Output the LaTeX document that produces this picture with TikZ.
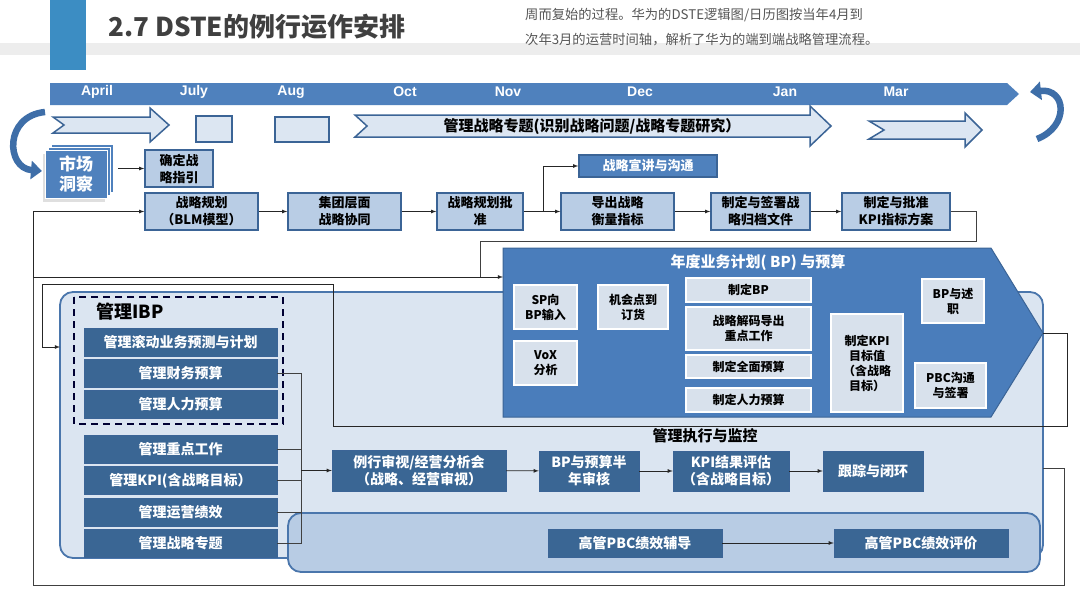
\documentclass[tikz,border=0pt]{standalone}
\usepackage{fontspec}
\setmainfont{Noto Sans CJK SC}
\newfontfamily\monthfont{Liberation Sans}
\usepackage{tikz}
\usetikzlibrary{arrows.meta,shadows}
\definecolor{barblue}{HTML}{3C8DC3}
\definecolor{tlblue}{HTML}{4F81BD}
\definecolor{boxline}{HTML}{3B6496}
\definecolor{lightfill}{HTML}{B9CDE5}
\definecolor{arrowfill}{HTML}{DCE6F2}
\definecolor{darkfill}{HTML}{3A6694}
\definecolor{areafill}{HTML}{DBE5F1}
\definecolor{arealine}{HTML}{4A76AC}
\definecolor{pbcfill}{HTML}{B8CCE4}
\definecolor{bpfill}{HTML}{4A7DBB}
\definecolor{softfill}{HTML}{D8E1EC}
\definecolor{curlblue}{HTML}{3E6EA8}
\definecolor{titlegray}{HTML}{404040}
\definecolor{notegray}{HTML}{555555}
\tikzstyle{flow}=[->,>=latex,draw=black!85,line width=0.8pt]
\tikzstyle{wire}=[-,draw=black!75,line width=0.8pt]
\tikzstyle{notch}=[draw=boxline,fill=arrowfill,line width=1.5pt,line join=miter]
\tikzstyle{curl}=[-{Triangle[width=18pt,length=11pt]},draw=curlblue,line width=6.5pt]
\tikzstyle{month}=[text=white,font=\monthfont\bfseries\fontsize{14}{16}\selectfont]
\tikzstyle{note}=[anchor=west,inner sep=0pt,text=notegray,font=\fontsize{13.3}{15}\selectfont]
\tikzstyle{market}=[rectangle,fill=tlblue,draw=white,line width=0.6pt,text=white,align=center,minimum width=62pt,minimum height=48pt,font=\bfseries\fontsize{17}{20}\selectfont,drop shadow={shadow xshift=-2pt,shadow yshift=-4pt,opacity=0.25},double copy shadow={shadow xshift=3pt,shadow yshift=3pt,fill=tlblue,draw=white}]
\tikzstyle{lightbox}=[rectangle,draw=boxline,fill=lightfill,line width=1.5pt,inner sep=1pt,align=center,font=\bfseries\fontsize{13}{17}\selectfont]
\tikzstyle{talkbox}=[rectangle,draw=boxline,fill=tlblue,line width=1.5pt,inner sep=1pt,text=white,font=\bfseries\fontsize{13}{15}\selectfont]
\tikzstyle{darkbox}=[rectangle,draw=boxline,fill=darkfill,inner sep=1pt,text=white,align=center,font=\bfseries\fontsize{14}{17}\selectfont]
\tikzstyle{whitebox}=[rectangle,draw=white,line width=2.5pt,fill=softfill,inner sep=1pt,align=center,font=\bfseries\fontsize{12}{15}\selectfont]
\tikzstyle{heading}=[font=\bfseries\fontsize{15}{17}\selectfont]
\begin{document}
\begin{tikzpicture}[x=1pt,y=-1pt]
%The page
\useasboundingbox (0,0) rectangle (1080,608);
\fill[white] (0,0) rectangle (1080,608);

%The header
\fill[black!7] (0,43) rectangle (1080,55);
\fill[barblue] (50,0) rectangle (86,70);
\draw (105,27) node[anchor=west,text=titlegray,font=\bfseries\fontsize{26}{30}\selectfont] (title) {2.7 DSTE的例行运作安排};
\draw (525,15) node[note] (note1) {周而复始的过程。华为的DSTE逻辑图/日历图按当年4月到};
\draw (525,40) node[note] (note2) {次年3月的运营时间轴，解析了华为的端到端战略管理流程。};

%The time line
\fill[tlblue] (50,83) -- (1007,83) -- (1019,94) -- (1007,105) -- (50,105) -- cycle;
\foreach \m/\x in {April/97,July/194,Aug/291,Oct/405,Nov/508,Dec/640,Jan/785,Mar/896}
  \draw (\x,92) node[month] (m\m) {\m};

%The phase arrows
\draw[notch] (53,117) -- (150,117) -- (150,108) -- (169,125) -- (150,142) -- (150,133) -- (53,133) -- (64,125) -- cycle;
\draw (214,129) node[notch,minimum width=36pt,minimum height=26pt] (julybox) {};
\draw (302,129.5) node[notch,minimum width=54pt,minimum height=25pt] (augbox) {};
\draw[notch] (355,115) -- (810,115) -- (810,106) -- (831,126) -- (810,146) -- (810,137) -- (355,137) -- (367,126) -- cycle;
\draw (592,127) node[heading] (topicrun) {管理战略专题(识别战略问题/战略专题研究）};
\draw[notch] (869,121) -- (965,121) -- (965,113) -- (982,130) -- (965,147) -- (965,139) -- (869,139) -- (884,130) -- cycle;

%The cycle arrows
\draw[curl] (45,112) .. controls (4,116) and (6,168) .. (42,171);
\draw[curl] (1037,139) .. controls (1070,126) and (1066,88) .. (1030,92);

%Market insight
\draw (76,174) node[market] (market) {市场\\洞察};

%The strategy row
\draw (179,168.5) node[lightbox,minimum width=68pt,minimum height=37pt] (guide) {确定战\\略指引};
\draw (201.5,211.5) node[lightbox,minimum width=113pt,minimum height=37pt] (blm) {战略规划\\（BLM模型）};
\draw (344.5,211.5) node[lightbox,minimum width=113pt,minimum height=37pt] (group) {集团层面\\战略协同};
\draw (480,211.5) node[lightbox,minimum width=86pt,minimum height=37pt] (approve) {战略规划批\\准};
\draw (648,166) node[talkbox,minimum width=138pt,minimum height=22pt] (talk) {战略宣讲与沟通};
\draw (617.5,211.5) node[lightbox,minimum width=113pt,minimum height=37pt] (metric) {导出战略\\衡量指标};
\draw (760.5,211.5) node[lightbox,minimum width=99pt,minimum height=37pt] (sign) {制定与签署战\\略归档文件};
\draw (896,211.5) node[lightbox,minimum width=108pt,minimum height=37pt] (kpiplan) {制定与批准\\KPI指标方案};

%The IBP and execution area
\draw[fill=areafill,draw=arealine,line width=1.8pt,rounded corners=13pt] (60,292) rectangle (1043,558);
\draw[fill=pbcfill,draw=arealine,line width=1.8pt,rounded corners=13pt] (288,513) rectangle (1040,572);
\draw[draw=black!80!blue,dash pattern=on 7pt off 5pt,line width=2pt] (74,297) rectangle (283,424);
\draw (93,312) node[anchor=west,font=\bfseries\fontsize{18}{20}\selectfont] (ibp) {管理IBP};
\draw (705,436) node[heading] (exec) {管理执行与监控};

%The BP shape
\draw[fill=bpfill,draw=boxline,line width=1pt] (503,248) -- (991,248) -- (1043,333) -- (991,417) -- (503,417) -- cycle;
\draw (758,263) node[heading,text=white] (bptitle) {年度业务计划( BP) 与预算};
\draw (545.5,307) node[whitebox,minimum width=63pt,minimum height=44pt] (sp) {SP向\\BP输入};
\draw (545.5,363) node[whitebox,minimum width=63pt,minimum height=44pt] (vox) {VoX\\分析};
\draw (633,307) node[whitebox,minimum width=70pt,minimum height=44pt] (opp) {机会点到\\订货};
\draw (748.5,290) node[whitebox,minimum width=125pt,minimum height=24pt] (makebp) {制定BP};
\draw (748.5,328.5) node[whitebox,minimum width=125pt,minimum height=43pt] (decode) {战略解码导出\\重点工作};
\draw (748.5,366.5) node[whitebox,minimum width=125pt,minimum height=23pt] (budget) {制定全面预算};
\draw (748.5,400) node[whitebox,minimum width=125pt,minimum height=24pt] (hrplan) {制定人力预算};
\draw (867,363) node[whitebox,minimum width=72pt,minimum height=98pt] (kpiset) {制定KPI\\目标值\\（含战略\\目标）};
\draw (953,301) node[whitebox,minimum width=62pt,minimum height=44pt] (report) {BP与述\\职};
\draw (950.5,385.5) node[whitebox,minimum width=71pt,minimum height=45pt] (pbcsign) {PBC沟通\\与签署};

%The IBP boxes
\draw (180.5,342) node[darkbox,minimum width=193pt,minimum height=28pt] (rolling) {管理滚动业务预测与计划};
\draw (180.5,373) node[darkbox,minimum width=193pt,minimum height=28pt] (finance) {管理财务预算};
\draw (180.5,404.5) node[darkbox,minimum width=193pt,minimum height=28pt] (hr) {管理人力预算};
\draw (180.5,449.5) node[darkbox,minimum width=193pt,minimum height=28pt] (keywork) {管理重点工作};
\draw (180.5,480.5) node[darkbox,minimum width=193pt,minimum height=28pt] (kpi) {管理KPI(含战略目标）};
\draw (180.5,512) node[darkbox,minimum width=193pt,minimum height=28pt] (ops) {管理运营绩效};
\draw (180.5,543.5) node[darkbox,minimum width=193pt,minimum height=28pt] (topic) {管理战略专题};

%The execution row
\draw (419,470.5) node[darkbox,minimum width=174pt,minimum height=41pt] (review) {例行审视/经营分析会\\（战略、经营审视）};
\draw (589,471) node[darkbox,minimum width=100pt,minimum height=40pt] (halfyear) {BP与预算半\\年审核};
\draw (731,471) node[darkbox,minimum width=116pt,minimum height=40pt] (kpieval) {KPI结果评估\\（含战略目标）};
\draw (873,471) node[darkbox,minimum width=100pt,minimum height=40pt] (track) {跟踪与闭环};
\draw (635,543) node[darkbox,minimum width=174pt,minimum height=28pt] (coach) {高管PBC绩效辅导};
\draw (921,543) node[darkbox,minimum width=174pt,minimum height=28pt] (pbceval) {高管PBC绩效评价};

%The loose ends
\coordinate (execout) at (1043,468);
\coordinate (execturn) at (1064,468);
\coordinate (bottomturn) at (1064,585);
\coordinate (leftturn) at (33,585);
\coordinate (leftjoin) at (33,277);
\coordinate (bpin) at (503,277);
\coordinate (bptip) at (1043,333);
\coordinate (ibpin) at (60,347);
\coordinate (fork) at (543,211.5);
\coordinate (bustop) at (301,373);
\coordinate (busend) at (301,543.5);

%The connectors
\draw[flow] (guide.west -| market.east) ++(11,0) -- (guide.west);
\draw[flow] (blm) -- (group);
\draw[flow] (group) -- (approve);
\draw[flow] (approve) -- (metric);
\draw[flow] (fork) |- (talk.west);
\draw[flow] (metric) -- (sign);
\draw[flow] (sign) -- (kpiplan);
\draw[wire] (kpiplan.east) -| (976,241) -| (480,277);
\draw[wire] (execout) -- (execturn) -- (bottomturn) -- (leftturn) -- (leftjoin);
\draw[flow] (leftjoin) |- (blm.west);
\draw[flow] (leftjoin) -- (bpin);
\draw[flow] (bptip) -- (1067,333) |- (333,426) |- (42,284) |- (ibpin);
\draw[wire] (finance.east) -- (bustop) -- (busend) -- (topic.east);
\draw[wire] (keywork.east) -- (keywork.east -| bustop);
\draw[wire] (kpi.east) -- (kpi.east -| bustop);
\draw[wire] (ops.east) -- (ops.east -| bustop);
\draw[flow] (review.west -| bustop) -- (review.west);
\draw[flow] (review) -- (halfyear);
\draw[flow] (halfyear) -- (kpieval);
\draw[flow] (kpieval) -- (track);
\draw[flow] (coach) -- (pbceval);
\end{tikzpicture}
\end{document}
